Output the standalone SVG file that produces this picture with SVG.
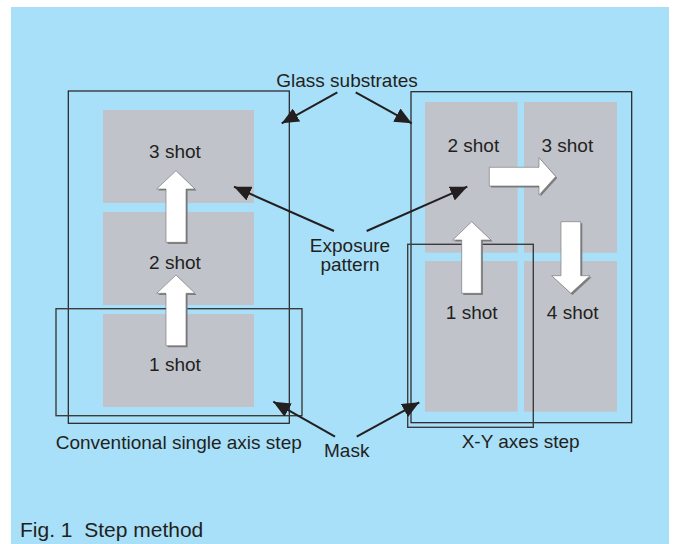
<svg xmlns="http://www.w3.org/2000/svg" width="674" height="544" viewBox="0 0 674 544">
<defs>
<style>
text{font-family:"Liberation Sans",Arial,Helvetica,sans-serif;font-size:19px;fill:#231f20}
.mid{text-anchor:middle}
.box{fill:#c1c3cb}
.sub{fill:none;stroke:#231f20;stroke-width:1.2}
.mask{fill:none;stroke:#3c3c3c;stroke-width:1.4}
.conn{stroke:#231f20;stroke-width:2;fill:none}
.shadow{fill:#7d7d7d}
.barrow{fill:#ffffff;stroke:#6f6f6f;stroke-width:0.6}
</style>
<marker id="ah" viewBox="0 0 17 15" refX="17" refY="7.5" markerWidth="17" markerHeight="15" markerUnits="userSpaceOnUse" orient="auto">
<path d="M0,0 L17,7.5 L0,15 Z" fill="#231f20"/>
</marker>
</defs>
<rect x="11" y="7" width="658" height="537" fill="#a8dff9"/>

<g id="left-panel">
<g id="left-shot3"><rect class="box" x="103" y="110" width="151" height="93"/><text class="mid" x="175" y="158">3 shot</text></g>
<g id="left-shot2"><rect class="box" x="103" y="212" width="151" height="93"/><text class="mid" x="175" y="268.5">2 shot</text></g>
<g id="left-shot1"><rect class="box" x="103" y="314" width="151" height="93"/><text class="mid" x="175" y="371">1 shot</text></g>
<rect id="left-substrate" class="sub" x="68.3" y="91" width="221" height="332.3"/>
<rect id="left-mask" class="mask" x="56" y="308.7" width="246" height="107"/>
<g id="left-arrow-2to3">
<path class="shadow" transform="translate(1.6,1.6)" d="M166,242.3 V189 H156.7 L176,170.7 L195,189 H186 V242.3 Z"/>
<path class="barrow" d="M166,242.3 V189 H156.7 L176,170.7 L195,189 H186 V242.3 Z"/>
</g>
<g id="left-arrow-1to2">
<path class="shadow" transform="translate(1.6,1.6)" d="M166,345.7 V293.3 H156.7 L176,275 L195,293.3 H186 V345.7 Z"/>
<path class="barrow" d="M166,345.7 V293.3 H156.7 L176,275 L195,293.3 H186 V345.7 Z"/>
</g>
<text id="left-caption" x="55.7" y="449">Conventional single axis step</text>
</g>

<g id="right-panel">
<g id="right-shot2"><rect class="box" x="425" y="102" width="92.7" height="150.7"/><text class="mid" x="473.3" y="152">2 shot</text></g>
<g id="right-shot3"><rect class="box" x="524" y="102" width="93" height="150.7"/><text class="mid" x="567.3" y="152">3 shot</text></g>
<g id="right-shot1"><rect class="box" x="425" y="261" width="92.7" height="150.7"/><text class="mid" x="471.7" y="318.5">1 shot</text></g>
<g id="right-shot4"><rect class="box" x="524" y="261" width="93" height="150.7"/><text class="mid" x="572.7" y="318.5">4 shot</text></g>
<rect id="right-substrate" class="sub" x="411" y="91.7" width="220.7" height="331"/>
<rect id="right-mask" class="mask" x="407.7" y="244.3" width="125.6" height="183"/>
<g id="right-arrow-1to2">
<path class="shadow" transform="translate(1.6,1.6)" d="M461.7,293.3 V240 H452.7 L471.7,221.7 L491,240 H481.3 V293.3 Z"/>
<path class="barrow" d="M461.7,293.3 V240 H452.7 L471.7,221.7 L491,240 H481.3 V293.3 Z"/>
</g>
<g id="right-arrow-2to3">
<path class="shadow" transform="translate(1.6,1.6)" d="M489.3,167.3 H539 V157.7 L555.7,176.5 L539,195 V186 H489.3 Z"/>
<path class="barrow" d="M489.3,167.3 H539 V157.7 L555.7,176.5 L539,195 V186 H489.3 Z"/>
</g>
<g id="right-arrow-3to4">
<path class="shadow" transform="translate(1.6,1.6)" d="M561,221.7 H580.7 V275.7 H590 L570.8,293.3 L551.7,275.7 H561 Z"/>
<path class="barrow" d="M561,221.7 H580.7 V275.7 H590 L570.8,293.3 L551.7,275.7 H561 Z"/>
</g>
<text id="right-caption" x="461.7" y="448.3">X-Y axes step</text>
</g>

<g id="label-glass"><text class="mid" x="347" y="87.3">Glass substrates</text></g>
<g id="label-exposure"><text class="mid" x="350" y="251.7">Exposure</text><text class="mid" x="350" y="271">pattern</text></g>
<g id="label-mask"><text class="mid" x="346.7" y="456.7">Mask</text></g>

<g id="connectors">
<line class="conn" x1="337.3" y1="92.3" x2="281.7" y2="123.3" marker-end="url(#ah)"/>
<line class="conn" x1="355.7" y1="92.3" x2="411.7" y2="123.3" marker-end="url(#ah)"/>
<line class="conn" x1="334" y1="231" x2="234" y2="186.7" marker-end="url(#ah)"/>
<line class="conn" x1="366.7" y1="231" x2="467.3" y2="186.7" marker-end="url(#ah)"/>
<line class="conn" x1="335" y1="436.7" x2="273.3" y2="401.7" marker-end="url(#ah)"/>
<line class="conn" x1="356.7" y1="436.7" x2="419.3" y2="402.3" marker-end="url(#ah)"/>
</g>

<text id="fig-caption" x="20" y="537" style="font-size:21px" xml:space="preserve">Fig. 1  Step method</text>
</svg>
